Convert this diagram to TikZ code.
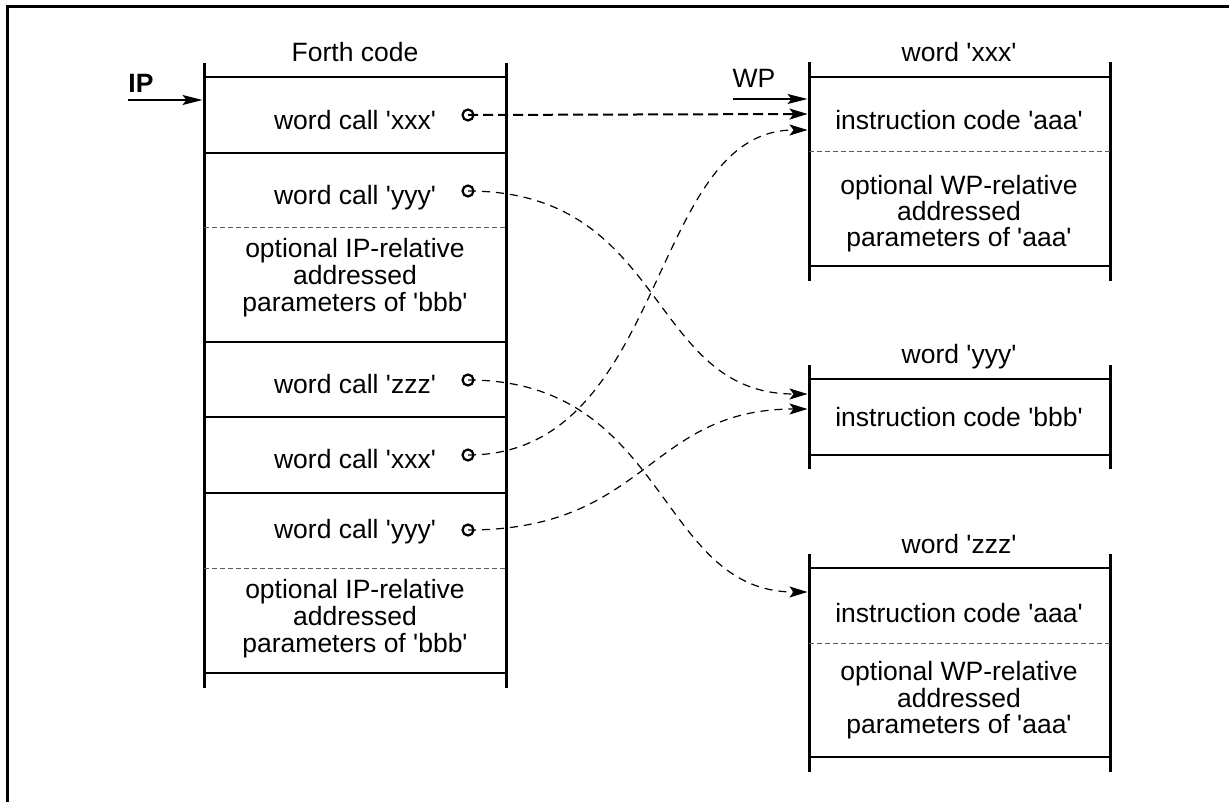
\documentclass[tikz,border=0pt]{standalone}
\usepackage{fontspec}
\setmainfont{Liberation Sans}[Ligatures=TeXOff]
\usetikzlibrary{arrows.meta}
\begin{document}
\begin{tikzpicture}[x=1pt,y=-1pt,
  frame/.style={line width=3pt},
  vline/.style={line width=3pt},
  hline/.style={line width=2pt},
  sepline/.style={line width=1pt, draw=black!65, dash pattern=on 5pt off 3pt},
  txt/.style={anchor=base, inner sep=0pt, font=\fontsize{26.5}{26.5}\selectfont},
  ptr/.style={line width=1.5pt, -{Stealth[length=20pt,width=10pt,inset=4pt]}},
  connthick/.style={line width=2pt, dash pattern=on 10pt off 5pt, -{Stealth[length=18pt,width=11pt,inset=4pt]}},
  conn/.style={line width=1.2pt, dash pattern=on 8pt off 6pt, -{Stealth[length=18pt,width=11pt,inset=4pt]}},
  port/.style={circle, draw, line width=2.2pt, minimum size=11pt, inner sep=0pt},
]
\useasboundingbox (0,0) rectangle (1229,802);
% outer frame
\draw[frame] (7.5,802) -- (7.5,7) -- (1229,7);

% ---------- Forth code column ----------
\node[txt] (ftitle) at (355,62) {Forth code};
\draw[vline] (204,63) -- (204,688);
\draw[vline] (506,63) -- (506,688);
\foreach \yy in {77,153,342,417,493,673} \draw[hline] (204,\yy) -- (506,\yy);
\draw[sepline] (204,228) -- (506,228);
\draw[sepline] (204,568) -- (506,568);

\node[txt] (l1) at (355,130) {word call 'xxx'};
\node[txt] (l2) at (355,205) {word call 'yyy'};
\node[txt] (l2a) at (355,258) {optional IP-relative};
\node[txt] (l2b) at (355,285) {addressed};
\node[txt] (l2c) at (355,312) {parameters of 'bbb'};
\node[txt] (l3) at (355,393) {word call 'zzz'};
\node[txt] (l4) at (355,468) {word call 'xxx'};
\node[txt] (l5) at (355,538) {word call 'yyy'};
\node[txt] (l5a) at (355,598) {optional IP-relative};
\node[txt] (l5b) at (355,625) {addressed};
\node[txt] (l5c) at (355,652) {parameters of 'bbb'};

\node[port] (p1) at (468,115) {};
\node[port] (p2) at (468,191) {};
\node[port] (p3) at (468,380) {};
\node[port] (p4) at (468,455) {};
\node[port] (p5) at (468,530) {};

% IP pointer
\node[txt, font=\fontsize{26.5}{26.5}\selectfont\bfseries] (ip) at (141,93) {IP};
\coordinate (ipfrom) at (128,100);
\coordinate (ipto) at (202.5,100);
\draw[ptr] (ipfrom) -- (ipto);

% ---------- word 'xxx' ----------
\node[txt] (xtitle) at (959,62) {word 'xxx'};
\draw[vline] (809,62) -- (809,281);
\draw[vline] (1110,62) -- (1110,281);
\draw[hline] (809,77) -- (1110,77);
\draw[hline] (809,266) -- (1110,266);
\draw[sepline] (809,152) -- (1112,152);
\node[txt] (x1) at (959,130) {instruction code 'aaa'};
\node[txt] (x2) at (959,195) {optional WP-relative};
\node[txt] (x3) at (959,221) {addressed};
\node[txt] (x4) at (959,247) {parameters of 'aaa'};

\node[txt] (wp) at (754,88) {WP};
\coordinate (wpfrom) at (733,99);
\coordinate (wpto) at (807.5,99);
\draw[ptr] (wpfrom) -- (wpto);

% ---------- word 'yyy' ----------
\node[txt] (ytitle) at (959,363) {word 'yyy'};
\draw[vline] (809,365) -- (809,469);
\draw[vline] (1110,365) -- (1110,469);
\draw[hline] (809,379) -- (1110,379);
\draw[hline] (809,455) -- (1110,455);
\node[txt] (y1) at (959,426) {instruction code 'bbb'};

% ---------- word 'zzz' ----------
\node[txt] (ztitle) at (959,553) {word 'zzz'};
\draw[vline] (809,554) -- (809,772);
\draw[vline] (1110,554) -- (1110,772);
\draw[hline] (809,568) -- (1110,568);
\draw[hline] (809,757) -- (1110,757);
\draw[sepline] (809,643) -- (1112,643);
\node[txt] (z1) at (959,622) {instruction code 'aaa'};
\node[txt] (z2) at (959,680) {optional WP-relative};
\node[txt] (z3) at (959,707) {addressed};
\node[txt] (z4) at (959,733) {parameters of 'aaa'};

% targets
\coordinate (tx1) at (807.5,114);
\coordinate (tx2) at (807.5,130);
\coordinate (ty1) at (807.5,394);
\coordinate (ty2) at (807.5,409);
\coordinate (tz1) at (807.5,592);

% connectors
\draw[connthick] (p1.center) -- (tx1);
\draw[conn] (p2.center) .. controls +(200,0) and +(-160,0) .. (ty1);
\draw[conn] (p3.center) .. controls +(200,0) and +(-150,0) .. (tz1);
\draw[conn] (p4.center) .. controls +(200,0) and +(-160,0) .. (tx2);
\draw[conn] (p5.center) .. controls +(180,0) and +(-160,0) .. (ty2);
\end{tikzpicture}
\end{document}
